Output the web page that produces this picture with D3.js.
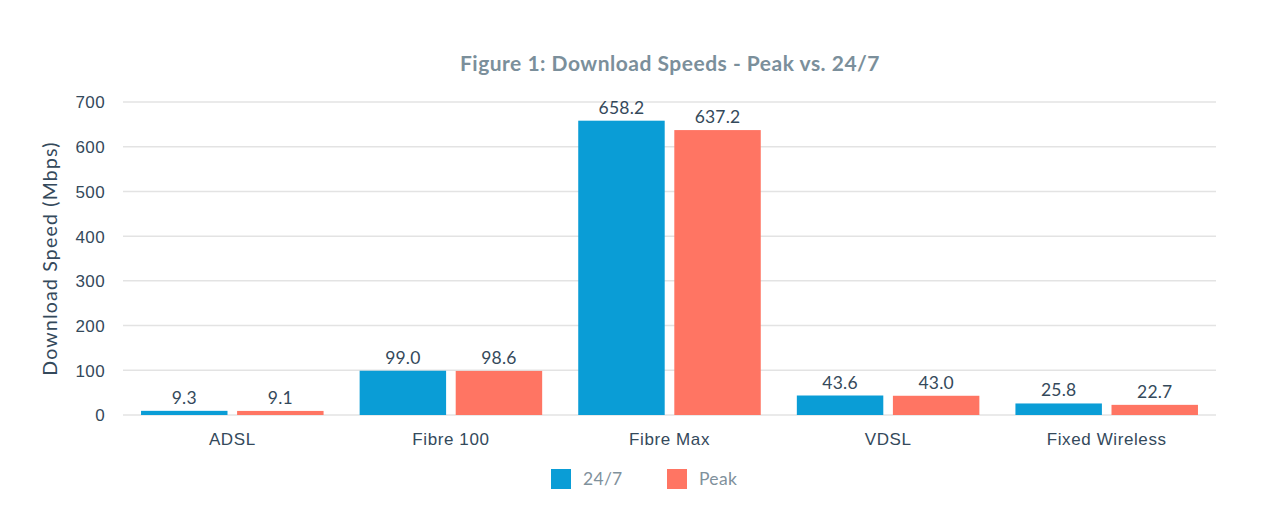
<!DOCTYPE html>
<html lang="en">
<head>
    <meta charset="UTF-8">
    <title>Figure 1: Download Speeds - Peak vs. 24/7</title>
    <style>
        body { margin: 0; background: #fff; }
        svg { font-family: Lato, "Noto Sans", sans-serif; }
        .grid line { stroke: #e3e3e3; stroke-width: 1.5; }
        .y-axis .tick text { fill: #34495b; font-size: 17px; letter-spacing: 0.4px; }
        .x-axis .tick text { fill: #34495b; font-size: 17px; letter-spacing: 0.6px; }
        .value { fill: #34495b; font-size: 17.5px; letter-spacing: 0.2px; }
        .title { fill: #7b8f9b; font-size: 21px; font-weight: bold; letter-spacing: 0.5px; }
        .axis-title { fill: #34495b; font-size: 19.5px; letter-spacing: 1.2px; }
        .legend-label { fill: #7f919c; font-size: 17.5px; letter-spacing: 0.3px; }
    </style>
</head>
<body>
    <div id="chart"></div>
    <script src="https://d3js.org/d3.v7.min.js"></script>
    <script>
        const categories = ["ADSL", "Fibre 100", "Fibre Max", "VDSL", "Fixed Wireless"];
        const seriesNames = ["24/7", "Peak"];
        const allDay = [9.3, 99.0, 658.2, 43.6, 25.8];
        const peak = [9.1, 98.6, 637.2, 43.0, 22.7];
        const yTicks = [0, 100, 200, 300, 400, 500, 600, 700];
        const colors = ["#0a9dd6", "#ff7563"];

        const width = 1280, height = 521;
        const margin = { top: 102, right: 64, bottom: 106, left: 123 };

        const svg = d3.select("#chart").append("svg")
            .attr("width", width)
            .attr("height", height);

        const x0 = d3.scaleBand()
            .domain(categories)
            .range([margin.left, width - margin.right])
            .paddingInner(0.165)
            .paddingOuter(0.0825);

        const x1 = d3.scaleBand()
            .domain(seriesNames)
            .range([0, x0.bandwidth()])
            .paddingInner(0.1);

        const y = d3.scaleLinear()
            .domain([0, 700])
            .range([height - margin.bottom, margin.top]);

        // gridlines
        svg.append("g")
            .attr("class", "grid")
            .selectAll("line")
            .data(yTicks)
            .enter()
            .append("line")
            .attr("x1", margin.left)
            .attr("x2", width - margin.right)
            .attr("y1", d => y(d))
            .attr("y2", d => y(d));

        // y axis labels
        const yAxis = svg.append("g")
            .attr("class", "y-axis")
            .attr("transform", `translate(${margin.left - 18},0)`)
            .call(d3.axisLeft(y).tickValues(yTicks).tickSize(0).tickPadding(0));
        yAxis.select(".domain").remove();
        yAxis.selectAll(".tick text").attr("dy", "0.35em");

        // x axis labels
        const xAxis = svg.append("g")
            .attr("class", "x-axis")
            .attr("transform", `translate(0,${height - margin.bottom})`)
            .call(d3.axisBottom(x0).tickSize(0).tickPadding(18));
        xAxis.select(".domain").remove();
        xAxis.selectAll(".tick text").attr("dy", "0.71em");

        const rows = categories.map((c, i) => ({ category: c, values: [allDay[i], peak[i]] }));

        const groups = svg.append("g")
            .selectAll("g")
            .data(rows)
            .enter()
            .append("g")
            .attr("transform", d => `translate(${x0(d.category)},0)`);

        groups.selectAll("rect")
            .data(d => d.values.map((v, j) => ({ key: seriesNames[j], value: v, j: j })))
            .enter()
            .append("rect")
            .attr("x", d => x1(d.key))
            .attr("y", d => y(d.value))
            .attr("width", x1.bandwidth())
            .attr("height", d => y(0) - y(d.value))
            .attr("fill", d => colors[d.j]);

        groups.selectAll("text.value")
            .data(d => d.values.map((v, j) => ({ key: seriesNames[j], value: v })))
            .enter()
            .append("text")
            .attr("class", "value")
            .attr("x", d => x1(d.key) + x1.bandwidth() / 2)
            .attr("y", d => y(d.value) - 7)
            .attr("text-anchor", "middle")
            .text(d => d.value.toFixed(1));

        // title
        svg.append("text")
            .attr("class", "title")
            .attr("x", 670)
            .attr("y", 71)
            .attr("text-anchor", "middle")
            .text("Figure 1: Download Speeds - Peak vs. 24/7");

        // y axis title
        svg.append("text")
            .attr("class", "axis-title")
            .attr("transform", `translate(57,${(y(0) + y(700)) / 2}) rotate(-90)`)
            .attr("text-anchor", "middle")
            .text("Download Speed (Mbps)");

        // legend
        const legend = svg.append("g")
            .selectAll("g")
            .data(seriesNames)
            .enter()
            .append("g")
            .attr("transform", (d, i) => `translate(${551 + i * 116},469)`);

        legend.append("rect")
            .attr("width", 20)
            .attr("height", 20)
            .attr("fill", (d, i) => colors[i]);

        legend.append("text")
            .attr("class", "legend-label")
            .attr("x", 32)
            .attr("y", 10)
            .attr("dy", "0.36em")
            .text(d => d);
    </script>
</body>
</html>
